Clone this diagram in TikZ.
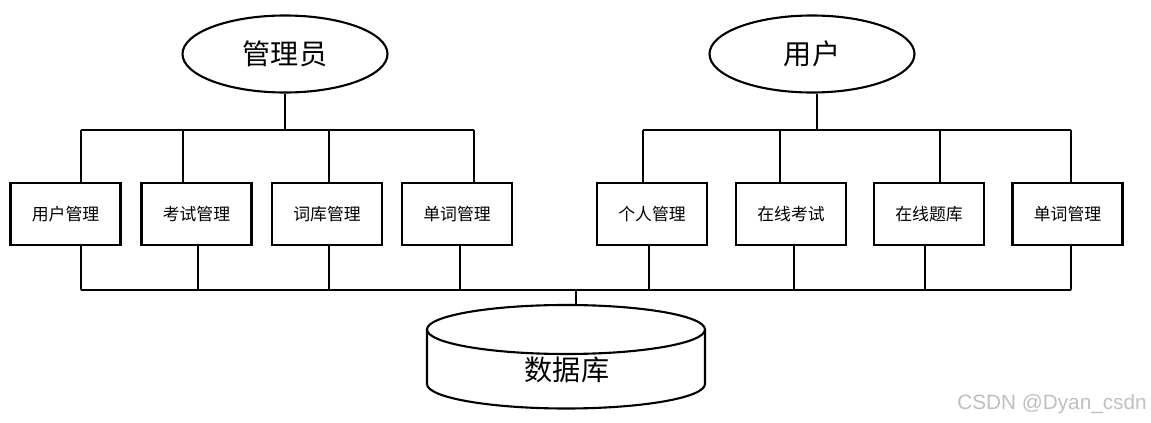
\documentclass[tikz,border=0pt]{standalone}
\usepackage{fontspec}
\newfontfamily\cjk{Noto Sans CJK SC}
\setsansfont{Liberation Sans}
\usetikzlibrary{positioning,shapes.geometric}

\tikzset{
    role/.style={draw, ellipse, line width=1.2pt, minimum width=4.1cm, minimum height=1.54cm,
        font=\cjk\fontsize{16}{16}\selectfont},
    module/.style={draw, rectangle, line width=1.3pt, minimum width=2.2cm, minimum height=1.24cm,
        font=\cjk\fontsize{9.6}{9.6}\selectfont},
    link/.style={line width=0.6pt}
}

\begin{document}
\begin{tikzpicture}
    \useasboundingbox (0,0) rectangle (23.02,-8.46);
    \node[role] (adm) at (5.70,-1.08) {管理员};
    \node[role] (usr) at (16.24,-1.08) {用户};
    \foreach \n/\x/\t in {m1/1.31/用户管理,m2/3.93/考试管理,m3/6.54/词库管理,m4/9.14/单词管理,
        m5/13.04/个人管理,m6/15.82/在线考试,m7/18.58/在线题库,m8/21.35/单词管理} {
        \node[module] (\n) at (\x,-4.28) {\t};
    }
    \coordinate (topbar) at (0,-2.60);
    \coordinate (bus) at (0,-5.80);
    \coordinate (dbtop) at (11.52,-6.10);
    % drops above and below each module
    \foreach \n/\a/\b in {m1/0.31/0.31,m2/-0.27/0.03,m3/0.04/0.04,m4/0.34/0.06,
        m5/-0.18/-0.06,m6/-0.22/0.06,m7/0.22/-0.08,m8/0.07/0.07} {
        \draw[link] ([xshift=\a cm]\n.north) -- ([xshift=\a cm]\n.north |- topbar);
        \draw[link] ([xshift=\b cm]\n.south) -- ([xshift=\b cm]\n.south |- bus);
    }
    \draw[link] ([xshift=0.31cm]m1.north |- topbar) -- ([xshift=0.34cm]m4.north |- topbar);
    \draw[link] ([xshift=-0.18cm]m5.north |- topbar) -- ([xshift=0.07cm]m8.north |- topbar);
    \draw[link] (adm.south) -- (adm.south |- topbar);
    \draw[link] ([xshift=0.1cm]usr.south) -- ([xshift=0.1cm]usr.south |- topbar);
    \draw[link] ([xshift=0.31cm]m1.south |- bus) -- ([xshift=0.07cm]m8.south |- bus);
    \draw[link] (dbtop |- bus) -- (dbtop);
    % database
    \draw[line width=1.2pt] (11.32,-6.59) ellipse [x radius=2.78, y radius=0.49];
    \draw[line width=1.2pt] (8.54,-6.59) -- (8.54,-7.68)
        arc[start angle=180, end angle=360, x radius=2.78, y radius=0.49] -- (14.10,-6.59);
    \node[font=\cjk\fontsize{16}{16}\selectfont] (db) at (11.34,-7.40) {数据库};
    \node[font=\sffamily\fontsize{11.8}{12}\selectfont, text=gray!50, anchor=east, inner sep=0pt]
        (mark) at (22.94,-8.08) {CSDN @Dyan\_csdn};
\end{tikzpicture}
\end{document}
